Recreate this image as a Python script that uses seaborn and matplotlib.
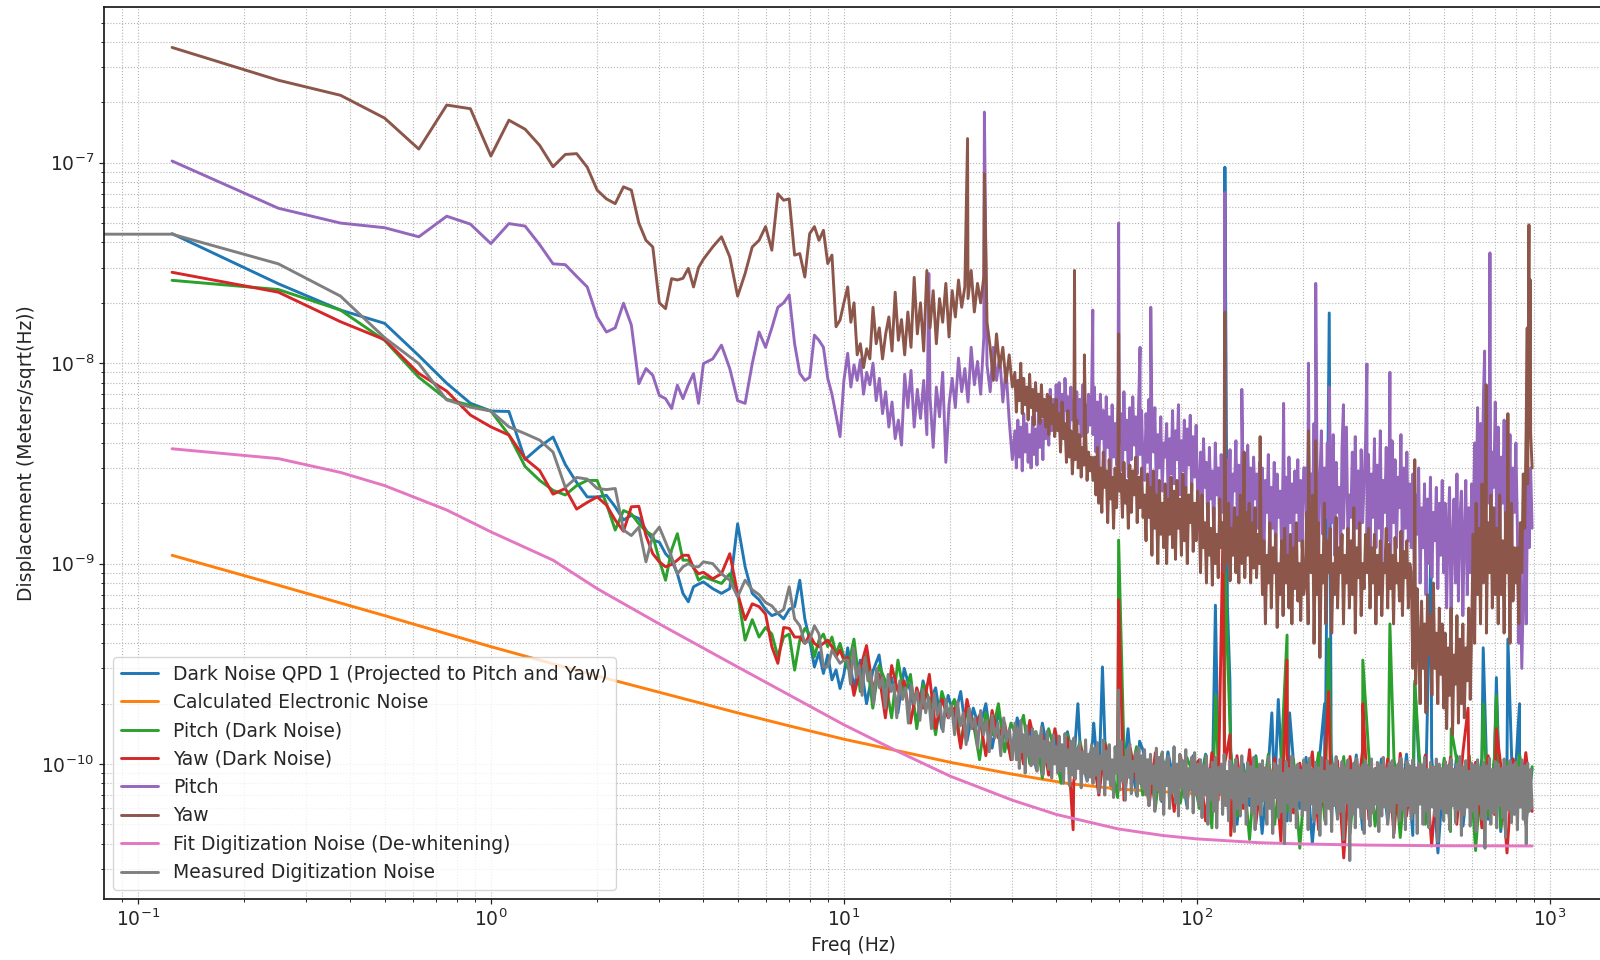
import numpy as np
import pandas as pd
import matplotlib
matplotlib.use("Agg")
import matplotlib.pyplot as plt
import seaborn as sns

# All amplitude spectral densities below are in pm/sqrt(Hz)
PM = 1e-12

# Low-frequency bins shared by the measured spectra:
# native 0.125 Hz resolution up to 4 Hz, then every other bin up to 10 Hz.
f_low = np.r_[np.arange(1, 33) * 0.125, 4.0 + np.arange(1, 25) * 0.25]
# Above 10 Hz the spectra are kept on log-spaced decimated grids.
MID_BAND = (10.25, 30.0)
HIGH_BAND = (30.5, 890.0)
FULL_BAND = (10.25, 890.0)

# ---------------- Dark Noise QPD 1 (projected) ----------------
qpd_low = [44300, 24900, 18400, 15800, 10900, 7940, 6310, 5770,
           5740, 3310, 3830, 4280, 3120, 2540, 2150, 2150,
           2190, 1920, 1650, 1740, 1680, 1470, 1310, 1280,
           1120, 1040, 890, 710, 645, 766, 790, 810,
           750, 710, 750, 1580, 964, 710, 660, 590, 550, 565, 530, 590,
           610, 826, 530, 415, 305, 360, 283, 350, 263, 295, 238, 280]
qpd_high = [380, 240, 330, 200, 290, 350, 210, 270, 180, 300, 230, 160, 260, 200, 240, 150, 220,
            170, 230, 130, 190, 150, 200, 120, 180, 140, 110,
            170, 120, 150, 95, 160, 110, 140, 90, 145, 100, 125, 85,
            130, 80, 120, 75, 125, 90, 110, 70, 118, 85, 105, 65, 115, 80, 100, 62, 110,
            75, 112, 55, 104, 68, 115, 50, 100, 62, 110, 45, 98, 70, 113, 52, 102, 60, 108,
            40, 96, 66, 114, 54, 100, 58, 111, 47, 99, 64, 106, 51, 103, 57, 112, 44, 97,
            63, 109, 36, 101, 59, 110, 49, 98, 61, 107, 53, 104, 46, 100, 60, 112, 50, 95]
qpd_line_f = [46, 51, 54, 63.8, 68.8, 112.8, 120, 122, 124, 163, 170, 183, 230, 237,
              414, 460, 647, 705, 760, 820]
qpd_line_v = [200, 160, 305, 150, 130, 620, 95000, 620, 260, 180, 210, 180, 200, 17800,
              250, 1200, 380, 270, 420, 200]

# ---------------- Calculated Electronic Noise ----------------
elec_f = [0.125, 0.25, 0.5, 1, 2, 3, 5, 7, 10, 15, 20, 30, 43, 60, 100, 200, 500, 890]
elec_v = [1100, 780, 550, 385, 275, 228, 180, 155, 133, 114, 102, 89, 80, 75, 71, 68, 67, 66]

# ---------------- Pitch (Dark Noise) ----------------
pdark_low = [25900, 23300, 18400, 13000, 8500, 6600, 6160, 5770,
             4380, 3050, 2600, 2320, 2200, 2450, 2600, 2600,
             1990, 1470, 1840, 1770, 1580, 1450, 1380, 1040,
             826, 1170, 1410, 1040, 1040, 964, 826, 860,
             826, 796, 890, 710, 415, 525, 430, 480, 445, 343, 430, 445,
             294, 415, 475, 445, 343, 415, 445, 385, 430, 355, 400, 343]
pdark_high = [300, 420, 230, 350, 190, 310, 260, 170, 330, 220, 280, 150, 250, 210, 140, 230, 180,
              210, 125, 190, 160, 105, 180, 140, 200, 115, 160,
              135, 175, 100, 145, 85, 150, 115, 80, 140, 100, 130, 90,
              120, 75, 128, 95, 68, 115, 85, 122, 70, 105, 60, 112, 82, 98, 64, 108, 90,
              60, 110, 48, 102, 72, 116, 55, 96, 42, 108, 65, 112, 50, 99, 58, 105, 38, 100,
              70, 114, 52, 97, 61, 109, 45, 103, 66, 111, 49, 95, 57, 106, 43, 101, 68, 113,
              50, 98, 59, 107, 46, 104, 62, 110, 37, 99, 55, 108, 48, 102, 64, 111, 52, 97]
pdark_line_f = [60, 113, 120, 180, 236, 295, 352, 414, 525, 647, 705]
pdark_line_v = [1310, 220, 1000, 440, 420, 330, 500, 260, 150, 200, 220]

# ---------------- Yaw (Dark Noise) ----------------
ydark_low = [28400, 22600, 16100, 13100, 8890, 7250, 5510, 4810,
             4380, 3340, 2910, 2220, 2370, 1870, 2020, 2150,
             1960, 1650, 1450, 1920, 1930, 1380, 1120, 1020,
             964, 990, 1040, 1100, 1100, 950, 890, 905,
             840, 890, 1120, 710, 525, 630, 610, 560, 385, 318, 480, 475,
             430, 430, 400, 440, 400, 385, 400, 415, 385, 343, 370, 330]
ydark_high = [340, 220, 300, 390, 240, 280, 170, 310, 230, 260, 160, 240, 190, 280, 150, 210, 170,
              190, 120, 210, 150, 175, 110, 185, 135, 160, 105,
              150, 100, 165, 120, 140, 88, 150, 105, 135, 82, 125, 95,
              115, 70, 125, 88, 105, 66, 120, 82, 108, 62, 114, 78, 100, 58, 110, 76, 96,
              105, 52, 114, 66, 99, 44, 110, 60, 118, 50, 96, 63, 107, 41, 112, 57, 101, 69,
              115, 47, 98, 58, 104, 34, 109, 62, 117, 53, 95, 60, 106, 45, 113, 55, 100, 67,
              111, 39, 97, 59, 108, 50, 116, 64, 102, 48, 110, 56, 99, 36, 106, 61, 114, 58]
ydark_line_f = [44.6, 60, 118.5, 124, 180, 236, 295, 586, 705]
ydark_line_v = [47, 660, 1420, 140, 330, 230, 200, 190, 150]

# ---------------- Pitch ----------------
pitch_low = [102000, 59300, 50000, 47400, 42700, 54100, 49400, 39500,
             49700, 48300, 39000, 31300, 31000, 27100, 24000, 17000,
             14300, 15000, 19900, 15500, 7900, 9400, 8700, 6900,
             6650, 5940, 7760, 6650, 7800, 8870, 6300, 9950,
             10500, 12300, 9400, 6500, 6300, 9950, 14300, 12000, 15000, 19000, 20000, 21900,
             12500, 8900, 8200, 8500, 13800, 13000, 12000, 8400, 7000, 5500, 4300, 8200]
pitch_mid = [11200, 7600, 9800, 8200, 10400, 7000, 9000, 7800,
             10000, 6500, 8400, 5600, 7200, 4800, 6400, 4200, 5200, 3900, 8800,
             6000, 9200, 4800, 7400, 5300, 8200, 4400, 6800, 3800, 7600, 5400, 9000, 3200, 6200,
             8400, 6000, 10600, 7200, 9400, 6400, 12000, 7800, 10200, 7000, 13500,
             9800, 7200, 12000, 8200, 10800, 6400, 9400, 5200, 3300]
pitch_high = [4600, 3000, 5200, 3400, 4800, 2900, 5600, 3600, 5000, 3200, 4400, 3000, 5400, 3500, 4700,
              3100, 5800, 3800, 5200, 3300, 6200, 4200, 5600, 3900, 7400, 4600, 6600, 4400, 7800, 5000,
              8000, 5400, 7000, 4600, 8400, 5800, 6800, 4400, 7600, 5200, 6400, 4800, 7200, 5000, 6600,
              4300, 7800, 5600, 6200, 4500, 7000, 4900, 6400,
              4400, 7600, 3600, 6400, 3000, 7000, 4200, 5800, 2800, 6800, 3800, 5400, 2600, 6200, 3400,
              5000, 3100, 6600, 4000, 5600, 2900, 7200, 3700, 5200, 2700, 6000, 3300, 6800, 3900, 5400,
              2800, 6400, 3500, 5800, 3000,
              2600, 5600, 3200, 6600, 2400, 4800, 3600, 6000, 2200, 4400, 3000, 5400, 2300, 4000, 3400,
              5000, 2100, 4200, 2800, 5800, 2500, 4600, 3300, 6200, 2200, 4100, 2900, 5200, 2400, 4700,
              3100, 5500, 2300, 4300, 2700, 4900, 2200,
              2000, 3600, 1500, 4200, 2400, 3200, 1400, 3800, 2100, 2900, 1300, 4000, 2200, 3000, 1500,
              3500, 1800, 2600, 1300, 3300, 1900, 3700, 1400, 2800, 2300, 4100, 1600, 3100, 1300, 3600,
              2000, 2700, 1500, 3900, 1800, 3000, 1400, 3400, 2100, 2800, 1500, 3200,
              1600, 3000, 1100, 2600, 1800, 3500, 1200, 2400, 1500, 3200, 1000, 2800, 1700, 2300, 1200,
              3100, 1400, 2700, 1100, 3400, 1600, 2500, 1000, 2900, 1800, 3300, 1300, 2600, 1200, 3000,
              3000, 1500, 4200, 1100, 2800, 1800, 5000, 1300, 3400, 1000, 2600, 4600, 1400, 3000, 1700,
              4000, 1200, 2500, 1600, 4400, 1100, 3200, 1800, 2400, 1000, 3800, 1500, 2700, 4800, 1300,
              2200, 1700, 3600, 1200, 4300, 1500, 2900, 1100, 3700, 1600, 2600, 4100,
              1400, 3500, 1100, 2800, 1700, 4200, 1200, 3100, 1500, 4600, 1000, 2600, 1800, 3800, 1300,
              2900, 1100, 4100, 1600, 3300, 1200, 2700, 1900, 4400, 1000, 3000, 1500, 3600, 1300, 2500,
              1200, 2800, 900, 2200, 1400, 3000, 800, 1900, 1200, 2500, 700, 2100, 1000, 2700, 850,
              1800, 1300, 2400, 750, 2000, 1100, 2600, 900,
              2000, 600, 1500, 2400, 500, 1300, 2100, 800, 2800, 650, 1700, 2300, 550, 1400, 2600,
              700, 1900, 900, 2500,
              1200, 4000, 1800, 6000, 1400, 5000, 2200, 7000, 1600, 4400, 2000, 5600, 1200, 3600, 2400,
              6400,
              1500, 4800, 1100, 3400, 2000, 5200, 1300, 3800, 1700, 4400, 1000, 3000, 1800, 4000,
              1500, 400, 900, 300, 700, 1600, 500, 2600, 1200, 3000, 1500]
pitch_line_f = [17.4, 25.0, 50.7, 60.0, 69.0, 74.0, 120.0, 134.0, 176.0, 207.0, 217.0, 237.0,
                260.0, 303.0, 352.0, 653.0, 676.0]
pitch_line_v = [28000, 179000, 18400, 50000, 12000, 19000, 71000, 7400, 6300, 10000, 25000, 7600,
                6200, 9900, 9000, 11500, 35500]

# ---------------- Yaw ----------------
yaw_low = [376000, 258000, 217000, 167000, 117000, 194000, 186000, 108000,
           163000, 147000, 122000, 95500, 110000, 111000, 95000, 73000,
           66000, 62500, 75800, 73000, 50000, 41000, 38000, 20000,
           18700, 26400, 26000, 26500, 29700, 24000, 30000, 33000,
           38000, 42700, 33900, 21600, 28000, 38000, 41000, 48000, 36600, 70000, 65000, 66000,
           34600, 35200, 26900, 44300, 48000, 41000, 46000, 31400, 34600, 15200, 16400, 20000]
yaw_mid = [24000, 16000, 20000, 11000, 12500, 9500, 11800, 10500,
           19000, 12500, 15000, 10500, 14000, 17000, 11500, 22600, 13000, 16500, 11000,
           18000, 12000, 26800, 14000, 20000, 11500, 29000, 15000, 23000, 12500, 21000, 16000, 25000, 13500,
           23000, 17000, 26000, 19000, 24000, 21000, 29000, 18000, 25000, 20000, 27000,
           16000, 12000, 8200, 14000, 9500, 12000, 8000, 11000, 7600]
yaw_high = [9000, 5700, 8200, 6500, 10000, 5600, 8400, 6200, 7600, 5200, 8800, 6000, 7400, 4900, 8000,
            5800, 7000, 5000, 7800, 5400, 6600, 4800, 7000, 4400, 6800, 5000, 6200, 4300, 6600, 4600,
            5600, 3600, 6400, 4200, 5000, 3200, 5800, 3400, 4600, 2800, 4000, 3300, 5200, 3000, 4400,
            2700, 3800, 3100, 4600, 2600, 3600, 2900, 3400,
            2600, 3400, 2200, 3800, 2000, 3000, 1800, 3600, 2400, 2900, 1600, 3300, 2100, 2700, 1500,
            3000, 1900, 3500, 2300, 2800, 1700, 3200, 2000, 2600, 1500, 3100, 1800, 2900, 2200, 3400,
            1600, 2700, 1900, 3000, 1700,
            2200, 1300, 2800, 1700, 2400, 1100, 2900, 1500, 2200, 1000, 2600, 1400, 2000, 1200, 2500,
            1000, 2100, 1400, 2700, 1200, 2300, 1050, 2600, 1500, 2100, 1100, 2800, 1300, 2400, 1000,
            2200, 1600, 2500, 1150, 2000, 1300, 2300,
            1800, 900, 2200, 1200, 1600, 800, 2000, 1100, 1500, 780, 1900, 1000, 1400, 850, 2100,
            1200, 1600, 900, 1800, 1000, 2000, 820, 1500, 1100, 1900, 900, 1700, 800, 2200, 1000,
            1500, 850, 1800, 1100, 2000, 800, 1600, 950, 1900, 850, 1400, 1000,
            1500, 700, 1300, 500, 1100, 800, 1600, 600, 1200, 900, 1400, 480, 1000, 700, 1300,
            550, 1500, 800, 1100, 600, 1400, 500, 1200, 750, 1600, 650, 1000, 520, 1300, 700,
            800, 1800, 500, 1400, 900, 2200, 400, 1200, 700, 1600, 340, 1100, 800, 2000, 500,
            1300, 900, 1500, 450, 1000, 700, 1700, 600, 1200, 900, 1400, 500, 1100, 800, 1500,
            600, 1300, 700, 1900, 450, 1200, 850, 1600, 550, 1000, 750, 1400,
            900, 1500, 600, 1200, 800, 1400, 500, 1100, 700, 1300, 550, 1000, 900, 1500, 600,
            1250, 750, 1100, 500, 1350, 800, 1000, 650, 1450, 550, 1150, 850, 1300, 600, 1000,
            900, 300, 600, 250, 750, 400, 200, 650, 300, 500, 180, 700, 350, 550, 220,
            800, 300, 450, 200, 600, 280, 500, 190,
            450, 150, 380, 220, 600, 140, 350, 250, 550, 160, 420, 200, 500, 170, 380,
            260, 600, 210, 480,
            1400, 400, 2000, 700, 1500, 500, 2500, 800, 1800, 450, 1600, 900, 2200, 600, 1900, 700,
            1500, 500, 2200, 700, 1300, 450, 1800, 900, 1400, 400, 2000, 650, 1200, 800,
            1200, 500, 1600, 900, 2800, 1500, 5000, 2500, 9000, 4500, 3000]
yaw_line_f = [22.4, 25.0, 45.0, 48.0, 60.0, 120.0, 136.0, 151.0, 207.0, 217.0, 414.0, 660.0,
              760.0, 862.0, 872.0, 880.0]
yaw_line_v = [132000, 88000, 29000, 11000, 14000, 18000, 3600, 4300, 4600, 4100, 3300, 7800,
              5600, 15000, 49000, 26000]

# ---------------- Fit Digitization Noise (De-whitening) ----------------
fit_f = [0.125, 0.25, 0.375, 0.5, 0.625, 0.75, 1, 1.5, 2, 3, 5, 7, 10, 14, 20, 30, 40, 60,
         80, 100, 150, 200, 300, 500, 890]
fit_v = [3740, 3340, 2850, 2450, 2100, 1850, 1440, 1040, 750, 500, 305, 221, 157, 117, 87,
         66, 56, 47.4, 44, 42.3, 40.5, 39.9, 39.4, 39.1, 39]

# ---------------- Measured Digitization Noise ----------------
dig_dc = 43500  # DC bin (0 Hz)
dig_low = [44000, 31300, 21600, 13400, 9950, 6550, 6030, 5770,
           4810, 4450, 4130, 3600, 2400, 2690, 2640, 2370,
           2340, 2370, 1470, 1380, 1520, 1020, 1380, 1520,
           1280, 1080, 890, 964, 1000, 964, 964, 1020,
           1000, 890, 826, 683, 826, 740, 700, 640, 615, 565, 590, 766,
           530, 490, 400, 415, 490, 445, 305, 305, 370, 343, 318, 330]
dig_mid = [330, 250, 380, 270, 310, 220, 340, 260, 290, 200, 300, 240, 270, 190, 280, 230, 250, 170,
           260, 210, 240, 160, 250, 200, 230, 165, 235, 180, 215, 150, 225, 175, 200, 145, 210, 170,
           195, 140, 205, 155, 180, 125, 190, 150, 170, 120, 185, 140, 165, 115, 175, 135, 160, 110,
           170, 130, 150, 105]
dig_high = [160, 105, 150, 95, 165, 115, 140, 90, 155, 110, 135, 98, 150, 100, 145, 92, 138, 108, 152, 88,
            130, 102, 146, 94, 128, 85, 140, 100, 122, 90,
            138, 92, 125, 80, 142, 98, 118, 78, 130, 88, 135, 84, 120, 95, 128, 76, 115, 90, 132, 82,
            112, 86, 124,
            80, 120, 88, 128, 72, 110, 95, 132, 70, 116, 84, 125, 78, 105, 68, 122, 90, 112, 74, 130,
            82, 108, 66, 118, 86, 126, 71, 103, 92, 115, 69, 121, 80, 110, 75,
            118, 70, 105, 62, 112, 80, 98, 58, 120, 74, 108, 66, 115, 56, 102, 78, 110, 60, 96, 72,
            122, 64, 100, 55, 112, 76, 104, 68, 118, 60, 95, 74, 108, 57, 114, 70, 100,
            62, 105, 54, 98, 70, 110, 50, 94, 66, 102, 58, 108, 48, 96, 72, 100, 56, 112, 62, 92,
            52, 104, 68, 98, 46, 106, 60, 95, 55, 110, 64, 90, 50, 102, 70, 97, 57, 108, 47, 94, 63, 100,
            56, 104, 66, 96, 50, 109, 60, 92, 45, 101, 68, 98, 54, 106, 58, 90, 40, 103, 64, 95,
            52, 110, 61, 97, 48, 100, 66, 93, 55, 105,
            59, 99, 47, 107, 63, 94, 52, 102, 57, 96, 44, 108, 65, 92, 50, 104, 60, 98, 46, 100,
            62, 109, 53, 95, 58, 103, 42, 97, 64, 105, 51, 93, 56, 101, 48, 107, 61, 96, 54, 99, 45, 104,
            60, 97, 49, 106, 57, 94, 63, 102, 46, 99, 55, 108, 61, 95, 50, 101, 58, 104, 43, 96,
            64, 100, 52, 107, 59, 93, 47, 103, 62, 98,
            53, 105, 57, 96, 45, 101, 63, 99, 50, 108, 58, 94, 48, 102, 61, 97, 55, 106, 41, 100,
            60, 95, 52,
            103, 57, 98, 47, 106, 62, 94, 51, 100, 59, 109, 44, 97, 56, 104, 61, 92, 49, 101,
            58, 99, 46, 105, 63, 96, 53, 102, 38, 98, 60, 107, 50, 94, 57, 103,
            48, 100, 62, 95, 54, 106, 43, 97, 59, 104, 51, 99, 56, 102,
            47, 96, 61, 105, 53, 98, 40, 101, 58, 94, 60]
dig_line_f = [60, 271]
dig_line_v = [234, 33]


def spectrum(low, bands, line_f, line_v, dc=None):
    """Assemble one measured spectrum as a tidy frame (frequency, ASD in m/sqrt(Hz))."""
    f = [f_low]
    v = [low]
    for (start, stop), values in bands:
        f.append(np.geomspace(start, stop, len(values)))
        v.append(values)
    f.append(line_f)
    v.append(line_v)
    if dc is not None:
        f.insert(0, [0.0])
        v.insert(0, [dc])
    return pd.DataFrame({"freq": np.concatenate(f),
                         "asd": np.concatenate(v).astype(float) * PM})


def smooth_curve(f, v):
    return pd.DataFrame({"freq": np.asarray(f, float), "asd": np.asarray(v, float) * PM})


series = [
    ("Dark Noise QPD 1 (Projected to Pitch and Yaw)",
     spectrum(qpd_low, [(FULL_BAND, qpd_high)], qpd_line_f, qpd_line_v)),
    ("Calculated Electronic Noise", smooth_curve(elec_f, elec_v)),
    ("Pitch (Dark Noise)",
     spectrum(pdark_low, [(FULL_BAND, pdark_high)], pdark_line_f, pdark_line_v)),
    ("Yaw (Dark Noise)",
     spectrum(ydark_low, [(FULL_BAND, ydark_high)], ydark_line_f, ydark_line_v)),
    ("Pitch",
     spectrum(pitch_low, [(MID_BAND, pitch_mid), (HIGH_BAND, pitch_high)], pitch_line_f, pitch_line_v)),
    ("Yaw",
     spectrum(yaw_low, [(MID_BAND, yaw_mid), (HIGH_BAND, yaw_high)], yaw_line_f, yaw_line_v)),
    ("Fit Digitization Noise (De-whitening)", smooth_curve(fit_f, fit_v)),
    ("Measured Digitization Noise",
     spectrum(dig_low, [(MID_BAND, dig_mid), (HIGH_BAND, dig_high)], dig_line_f, dig_line_v, dc=dig_dc)),
]

FS = 13.5
sns.set_theme(style="ticks", palette="tab10", rc={
    "font.size": FS, "axes.labelsize": FS, "xtick.labelsize": FS, "ytick.labelsize": FS,
    "legend.fontsize": FS, "axes.edgecolor": "0.1", "axes.linewidth": 1.25,
    "xtick.major.size": 3.5, "ytick.major.size": 3.5, "xtick.minor.size": 2.0,
    "ytick.minor.size": 2.0, "xtick.major.width": 0.9, "ytick.major.width": 0.9,
    "xtick.minor.width": 0.7, "ytick.minor.width": 0.7,
})
plt.rcParams["font.family"] = ["DejaVu Sans"]

colors = sns.color_palette("tab10", 8)

fig = plt.figure(figsize=(16, 9.6), dpi=100)
ax = fig.add_axes([0.065, 0.0635, 0.93625, 0.929])

for (label, df), color in zip(series, colors):
    sns.lineplot(data=df, x="freq", y="asd", ax=ax, color=color, linewidth=2.1,
                 label=label, estimator=None, sort=True, legend=False)

ax.set_xscale("log")
ax.set_yscale("log")
ax.set_xticks([0.1, 1, 10, 100, 1000])
ax.set_yticks([1e-10, 1e-9, 1e-8, 1e-7])
ax.set_xlim(0.0802, 1404)
ax.set_ylim(2.12e-11, 5.97e-7)
ax.grid(True, which="both", linestyle=":", linewidth=0.8, color="#b5b5b5")
ax.set_axisbelow(True)
ax.set_xlabel("Freq (Hz)")
ax.set_ylabel("Displacement (Meters/sqrt(Hz))")
ax.legend(loc="lower left", framealpha=0.8)

fig.savefig("out.png", dpi=100)
